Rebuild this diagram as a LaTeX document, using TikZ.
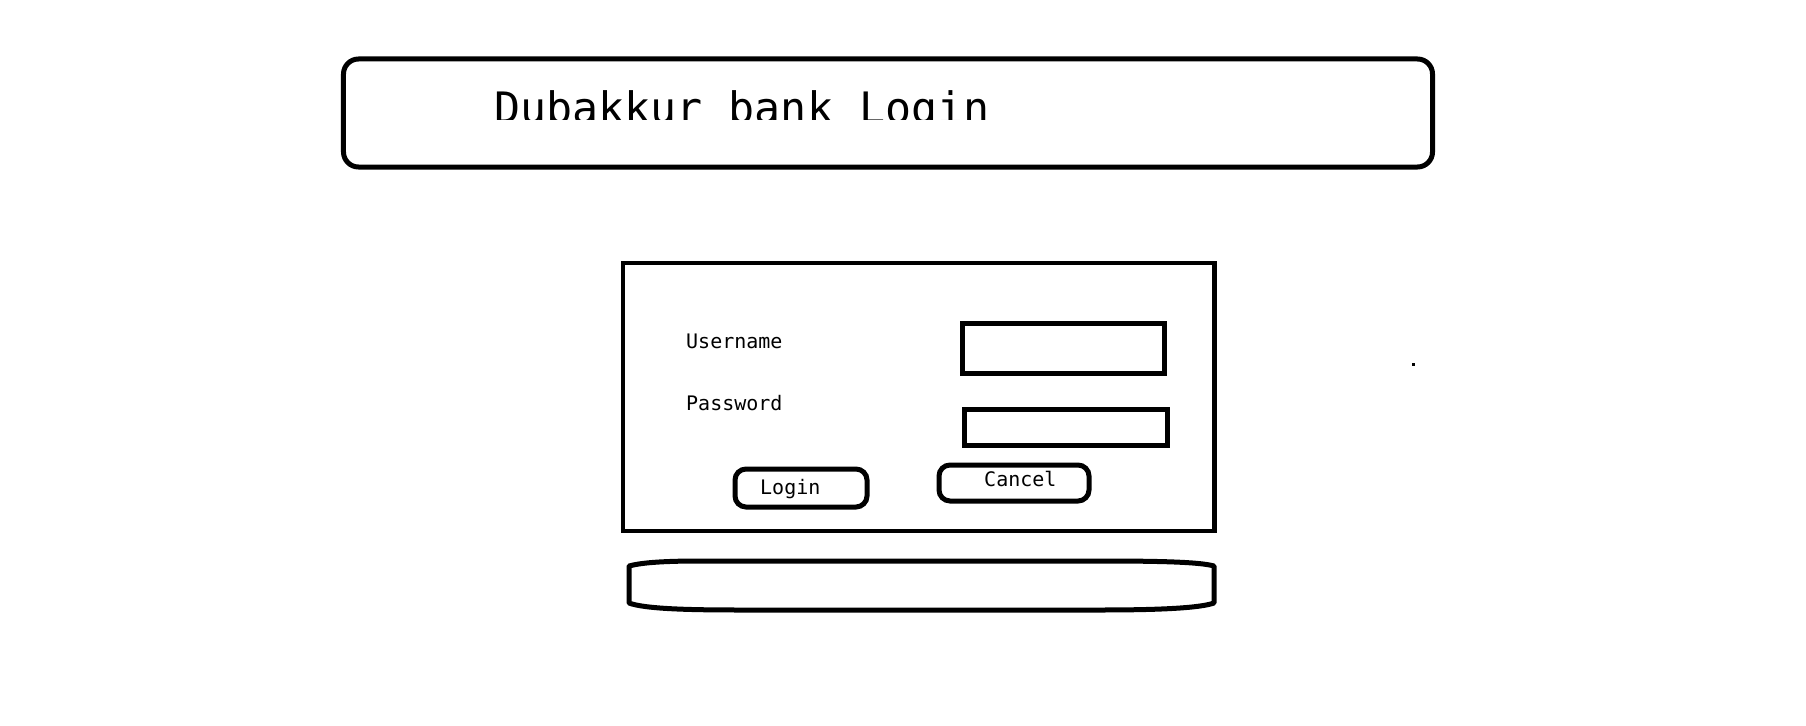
\documentclass[tikz,border=0pt]{standalone}
\usepackage{fontspec}
\setmonofont{DejaVu Sans Mono}
\begin{document}
\begin{tikzpicture}[x=1bp,y=-1bp,
  frame/.style={draw=black,line width=5bp,rectangle,inner sep=0pt,outer sep=0pt},
  titlebox/.style={frame,rounded corners=15bp},
  fieldbox/.style={frame,line width=5.5bp},
  btnbox/.style={frame,line width=5bp,rounded corners=11bp},
  bigtxt/.style={inner sep=0pt,anchor=base west,font=\ttfamily\fontsize{43.3bp}{50bp}\selectfont},
  smalltxt/.style={inner sep=0pt,anchor=base west,font=\ttfamily\fontsize{20bp}{24bp}\selectfont}
]
\useasboundingbox (0,0) rectangle (1806,726);
\fill[white] (0,0) rectangle (1806,726);

% title bar
\node[titlebox,minimum width=1089bp,minimum height=108bp] (title) at (888,113) {};
\begin{scope}
  \clip (0,0) rectangle (1806,120);
  \node[bigtxt] (titletxt) at (494,124) {Dubakkur bank Login};
\end{scope}

% form
\node[frame,line width=4.5bp,minimum width=591.5bp,minimum height=268bp] (form) at (918.75,397) {};
\node[smalltxt] (ulabel) at (686,348) {Username};
\node[smalltxt] (plabel) at (686,410) {Password};
\node[fieldbox,minimum width=202bp,minimum height=50bp] (ufield) at (1063.5,348.5) {};
\node[fieldbox,minimum width=203bp,minimum height=36bp] (pfield) at (1066,427.5) {};
\node[btnbox,minimum width=132bp,minimum height=38bp] (login) at (801,488) {};
\node[smalltxt] (logintxt) at (760,494) {Login};
\node[btnbox,minimum width=150bp,minimum height=36bp] (cancel) at (1014,483) {};
\node[smalltxt] (canceltxt) at (984,486) {Cancel};

% bottom bar
\draw[line width=5bp,line join=round]
  (629,566) -- (629,603)
  .. controls (645,609) and (690,610) .. (740,610) -- (1100,610)
  .. controls (1160,610) and (1200,608) .. (1214,603)
  -- (1214,566)
  .. controls (1200,562) and (1160,561) .. (1100,561) -- (700,561)
  .. controls (660,561) and (640,563) .. (629,566) -- cycle;

% stray dot
\fill (1412,363) rectangle (1415,366);
\end{tikzpicture}
\end{document}
